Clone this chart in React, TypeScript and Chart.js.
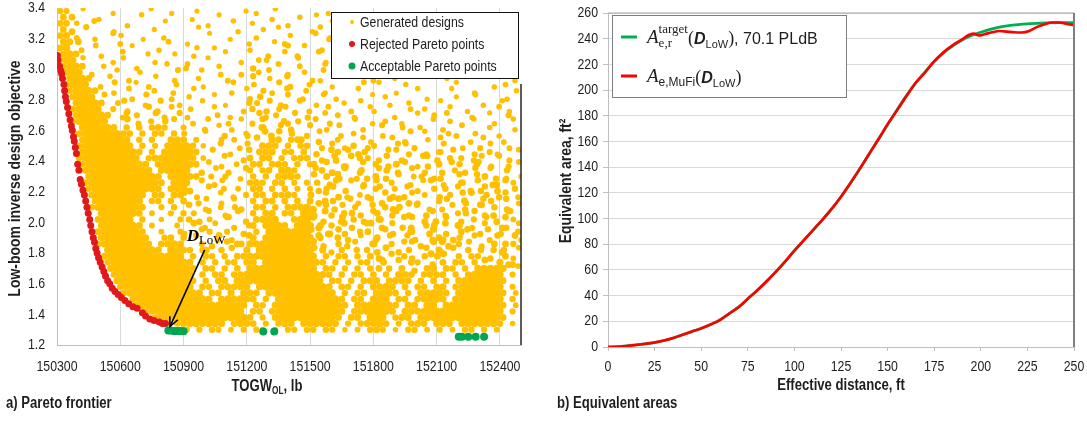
import React, { useEffect, useRef } from "react";
import { Chart, registerables } from "chart.js";

Chart.register(...registerables);

// ---------------- Panel a) Pareto frontier ----------------
const TOGW_MIN = 150300;
const TOGW_MAX = 152500;
const TOGW_STEP = 300;
const OBJ_MIN = 1.2;
const OBJ_MAX = 3.4;
const OBJ_STEP = 0.2;

// Generated designs, read from the picture as an occupancy map:
// one mark = one design in a 30 lb x 0.04 cell (top row = 3.38, bottom row = 1.30).
// '#' = design near the cell centre; digits 1-9 = design off-centre, keypad layout
// (7 8 9 = upper part of the cell, 1 2 3 = lower part).
const GEN_X0 = 150315;
const GEN_DX = 30;
const GEN_Y0 = 1.22;
const GEN_DY = 0.04;
const GEN_TOP_ROW = 54;
const generatedMap: string[] = [
  "##..7...3. ....9...1. ..4......6 .2..8..... ..3....... .......... .......... ...",
  "#6....1... ..9....... 3....7.... ...2...6.. 8......... .......... .......... ...",
  "##.4.9.... .1.....7.. ...3...9.. 6.....2... ...8...... .......... .......... ...",
  "#3..7...2. ....6..... .9......1. ..4.8....3 .7........ .......... .......... ...",
  "##.1....9. 4.....3... ....7..... .2....6... 9..1...... .......... .......... ...",
  "##6..8...2 ...7...4.. 1.....9..3 ...6.2.... ..8....... .......... .......... ...",
  "##.3..7... .9....1... ..4.6..... 2.....8..7 .3..9..... .......... .......... ...",
  "###...2..9 ...6....4. .1....7... ..3..8.2.. 9...4..... .......... .......... ...",
  "###.7...3. 8....2.... ...9.....1 .6.4....7. ..2..8.... .......... .......... ...",
  "####..6... ..1...9..3 7....4.... 2...8..6.. .9...1.... .......... .......... ...",
  ".###.2...8 ...4.....7 ..9..3...1 .6.8..2..4 ..7.1..... .......... .......... ...",
  ".####..9.. 3....7..1. .6....2... 8..4.9...3 .1...7...2 ..6....9.. .4....8... .3.",
  ".####.3..7 ..8.2...6. ...1...9.. .4...73..6 ...2....8. 9....4.... ...7.....1 6..",
  ".#####..2. 9...6..3.. .7.....1.8 ..42.9..6. .3.....7.. ...1..8... .9...2.... ..4",
  "..####.8.. .3..7...1. 6...9..... 2.4...8.3. ..7.1....9 .6......2. ...4..7... .1.",
  "..#####..4 7..2.9..3. ..8...1..6 .4.73..9.. 2...6..8.. ..1..4.... 7.....3..9 ...",
  "..#####.6. .1..83..7. .4..9....2 6..1.47..3 ..9...2..8 1....6..4. ..7.3....9 .2.",
  "..######.3 8.4..72.9. 1...6.3... .82.4..7.1 .9.6..2... ..3...8..4 .7...1.9.. 6..",
  "..######.. .73.6..48. .2.9...1.7 3.8..62.4. 9..1...7.3 .6..2....8 ..4..9...1 ..7",
  "...######. #.#.###..# ..3..7.1.. .64.9.2..8 ..1.7..3.. 9...4.6... 2..8...6.. .3.",
  "...####### ##.#.##.#. 4..8..2..6 1.93.7.4.2 .8..3.6... .2...9..7. .6.1..4..3 ...",
  "...####### #.#.#..### .#...#.#.. .7.##.##4. 3..6...9.1 ..8.2...4. 7...3.9... 1..",
  "...####### ##.#.#.### ##.4.9..3. 7.###.#.## .3.8.26..1 4..9.72... .7..1.3.8. .2.",
  "...####### ###.#.#### ##..7.3..9 .###.##.#. 2.96.8.14. .9.7.1.3.6 4.7..2.6.1 ..8",
  "...####### ###.###### ##.4..8..2 #.##.#.### .3.91.86.4 3.7.2..98. 1.46.3.7.9 .2.",
  "...####### ####.##### ##.8.2.6.. ##.###.#.# 4.7.31.9.6 .3.48.2.16 .9.4.67.1. 3.8",
  "....###### #####.#### #.3..7.1.9 #.##.###.. 96.2.8.34. 9.43..7.1. 3.6.2.7.8. .4.",
  "....###### ######.### ##.6..4.2. #.#.####.. 7.491.3.26 .2.8.6.4.1 1..7.9.43. 2.6",
  "....###### #######.## #.9.3.7... ###.##.#.# .4.17.8.2. 8.6..3.9.7 .1.64.8.32 9.4",
  "....###### ######.### 2..8.6..4. ##.#.#.#.# 3.47.1.9.6 8.6.9.2..4 6.9.3.27.1 .6.",
  ".....##### ####.##.## 7.1..9.3.6 .##.####.. 4.8.23.6.1 .9.13.7.4. 2.4.78.6.3 9.3",
  ".....##### ###.##.#.# .3.7.2.8.. #.##.#.#.# 36.4.9.1.7 3.78.12..6 .7.61.9.4. 8.2",
  ".....##### ####..#.#. 9..2.6..41 .##.#.#### 2.83.7.4.9 .6.14.9.3. 3.8.2.97.4 .1.",
  "......#### ###.#..#.# .4.8..1.7. #.##.##.## 193.6.42.8 4.27.1.39. 3.6.48.12. 97.",
  "......#### ##.#..#..# 6.2.4.97.3 .####..### 8.1.376.2. 64..9.7.13 .8.3.6.9.2 9.4",
  "......#### ###.#...#. .73.8..2.6 #.####.### 346.9.1.87 3.8.12.6.4 9.64.1.7.3 2.8",
  "......#### ####..#..# 1.9.4.6..2 .#.####### 7.3182.6.4 .9.1.64.38 .2.69.3.7. 1.6",
  "......#### ####..##.# .8..37.1.9 #.######## 94.6.2.8.3 4.7.9.1.36 2.14.8.3.7 .93",
  "......#### #####.#### ..6.2.9.#4 ########## 8.1.#3.7.6 4.6.9.72.8 93.#.7.1.4 6.4",
  ".......### ######.### #.#4.#.7.# .######### 7#3.#.6.#. 18.2.4.9.6 1.7.#.#.#3 4.8",
  ".......### ########## .#.##.#.## ########## #.#.##.#.# 3.9.6.1.47 47.#.##.2. 6.1",
  ".......### ########## #.#.#.##.# #.######## ##.#.#.##. 94.8.##.3. #.##.#.7.# 32.",
  "........## ########## ##.##.#.#. ########## #.##.#.#.# 6.#.#.2.## .##.#.#### #.9",
  "........## ########## #.#.##.### ########## ###.#.##.# .#.###.### #.#.###### .#.",
  ".........# ########## ##.#.##.## ########## ##.##.#.## #.####.#.# .#.####### #..",
  ".........# ########## #.##.##### .######### ###.##.#.# ###.#.##.# #.######## .#.",
  ".......... ########## ###.##.#.# ##.####### ####.#.##. ####.#.### ##.####### #.#",
  ".......... .######### ####.##### #.#.###### #####.##.# ##.##.#### #.######## .#.",
  ".......... ..######## ########## .##.###### ######.### ####.##.## .######### #.#",
  ".......... ...####### #########. ##.####### #####.#### ###.###### ########## .#.",
  ".......... .....##### ########## #.#.###### #####.##.# ##.###.### ########## #..",
  ".......... ........## ######.### #.#.###.## ####.#.### ##.#.###.# ##.####### .#.",
  ".......... .......... #.#.##.#.# .##.#.##.# #.##.#.#.# ##.#.##.#. #.#.##.#.# ...",
];
const GEN_OFFSET: Record<string, [number, number]> = {
  "7": [-1, 1], "8": [0, 1], "9": [1, 1],
  "4": [-1, 0], "#": [0, 0], "5": [0, 0], "6": [1, 0],
  "1": [-1, -1], "2": [0, -1], "3": [1, -1],
};
const GEN_OFFSET_FRACTION = 0.38;

const rejectedTOGW = [
  150302, 150305, 150312, 150318, 150322, 150326, 150333, 150336, 150340, 150344,
  150350, 150356, 150362, 150368, 150373, 150378, 150382, 150387, 150392, 150398,
  150404, 150410, 150416, 150423, 150430, 150436, 150442, 150448, 150455, 150460,
  150466, 150472, 150478, 150484, 150490, 150497, 150505, 150514, 150522, 150530,
  150540, 150550, 150562, 150575, 150590, 150605, 150622, 150640, 150660, 150680,
  150705, 150720, 150740, 150760, 150785, 150800, 150815,
];
const rejectedObj = [
  3.09, 3.06, 3.02, 2.99, 2.97, 2.94, 2.9, 2.86, 2.82, 2.79,
  2.75, 2.71, 2.67, 2.63, 2.6, 2.56, 2.53, 2.49, 2.45, 2.38,
  2.34, 2.28, 2.25, 2.21, 2.18, 2.14, 2.1, 2.06, 2.02, 1.98,
  1.94, 1.9, 1.87, 1.83, 1.8, 1.77, 1.74, 1.71, 1.68, 1.65,
  1.62, 1.6, 1.57, 1.55, 1.53, 1.51, 1.49, 1.47, 1.45, 1.44,
  1.41, 1.39, 1.37, 1.36, 1.35, 1.34, 1.34,
];
const acceptableTOGW = [
  150828, 150840, 150852, 150864, 150876, 150888, 150900,
  151278, 151330,
  152205, 152220, 152250, 152285, 152325,
];
const acceptableObj = [
  1.295, 1.295, 1.292, 1.292, 1.292, 1.292, 1.29,
  1.288, 1.288,
  1.254, 1.254, 1.254, 1.254, 1.254,
];
const seriesLabelsA = ["Generated designs", "Rejected Pareto points", "Acceptable Pareto points"];
// the D_LoW arrow: tip at the selected design, tail where the label sits
const dLow = { tipTOGW: 150836, tipObj: 1.322, tailTOGW: 151000, tailObj: 1.82 };

// ---------------- Panel b) Equivalent areas ----------------
const DIST_MIN = 0;
const DIST_MAX = 250;
const DIST_STEP = 25;
const AREA_MIN = 0;
const AREA_MAX = 260;
const AREA_STEP = 20;

const targetDistance = [
  0, 5, 10, 15, 20, 25, 30, 35, 40, 45,
  50, 55, 60, 65, 70, 75, 80, 85, 90, 95,
  100, 105, 110, 115, 120, 125, 130, 135, 140, 145,
  150, 155, 160, 165, 170, 175, 180, 185, 190, 195,
  200, 205, 210, 215, 220, 225, 230, 235, 240, 245,
  250,
];
const targetArea = [
  0, 0.2, 0.8, 1.6, 2.5, 3.5, 5, 7, 9.5, 12,
  14.5, 17.5, 21, 26, 31, 37.5, 44, 51, 58.5, 66.5,
  75, 83, 91, 99, 107.5, 117, 127.5, 138.5, 150, 161.5,
  173, 184.5, 195.5, 205.5, 214, 222, 229, 234.5, 239, 242.5,
  245, 247.2, 249, 250.2, 251, 251.6, 252, 252.3, 252.5, 252.5,
  252.5,
];
const mufiDistance = [
  0, 5, 10, 15, 20, 25, 30, 35, 40, 45,
  50, 55, 60, 65, 70, 75, 80, 85, 90, 95,
  100, 105, 110, 115, 120, 125, 130, 135, 140, 145,
  150, 155, 160, 165, 170, 175, 180,
  185, 190, 193, 196, 199, 202, 206, 210, 214, 218,
  222, 226, 230, 234, 238, 242, 246, 250,
];
const mufiArea = [
  0, 0.2, 0.8, 1.6, 2.5, 3.5, 5, 7, 9.5, 12,
  14.5, 17.5, 21, 26, 31, 37.5, 44, 51, 58.5, 66.5,
  75, 83, 91, 99, 107.5, 117, 127.5, 138.5, 150, 161.5,
  173.5, 184, 195, 205.5, 213.5, 222.5, 229.5,
  235, 239.5, 242.5, 244, 242.5, 243.5, 245, 246, 245.5, 245,
  244.8, 246, 249, 251, 252.6, 252.6, 251.5, 250.5,
];

// ---------------- styles ----------------
const SANS = "'Liberation Sans', Arial, sans-serif";
const SERIF = "'Liberation Serif', 'DejaVu Serif', serif";
const NARROW_K = 0.82; // Arial-Narrow look: Liberation Sans squeezed horizontally
const ORANGE = "#FFC000";
const RED_PT = "#E0191C";
const GREEN_PT = "#00A650";
const GREEN_LINE = "#00B050";
const RED_LINE = "#FF0000";
const TEXT = "#1e1e1e";
const AXIS = "#BFBFBF";
const GRID = "#D9D9D9";
const TICK_FONT = `15px ${SANS}`;
const TITLE_FONT = `bold 17px ${SANS}`;
const CAPTION_FONT = `bold 16px ${SANS}`;

type Run = { t: string; f: string; dy?: number; stackWith?: { t: string; f: string; dy: number } };

function runsWidth(ctx: any, runs: Run[]) {
  let w = 0;
  runs.forEach((r) => {
    ctx.font = r.f;
    let rw = ctx.measureText(r.t).width;
    if (r.stackWith) {
      ctx.font = r.stackWith.f;
      rw = Math.max(rw, ctx.measureText(r.stackWith.t).width);
    }
    w += rw;
  });
  return w;
}

function drawRuns(ctx: any, x: number, baseline: number, runs: Run[], k = 1) {
  ctx.save();
  ctx.translate(x, 0);
  ctx.scale(k, 1);
  ctx.textAlign = "left";
  ctx.textBaseline = "alphabetic";
  let cx = 0;
  runs.forEach((r) => {
    ctx.font = r.f;
    ctx.fillText(r.t, cx, baseline + (r.dy || 0));
    let rw = ctx.measureText(r.t).width;
    if (r.stackWith) {
      ctx.font = r.stackWith.f;
      ctx.fillText(r.stackWith.t, cx, baseline + r.stackWith.dy);
      rw = Math.max(rw, ctx.measureText(r.stackWith.t).width);
    }
    cx += rw;
  });
  ctx.restore();
}

function narrowText(ctx: any, text: string, x: number, y: number, font: string, align: string, rotate = 0) {
  ctx.save();
  ctx.font = font;
  ctx.textAlign = align;
  ctx.textBaseline = "middle";
  ctx.translate(x, y);
  if (rotate) ctx.rotate(rotate);
  ctx.scale(NARROW_K, 1);
  ctx.fillText(text, 0, 0);
  ctx.restore();
}

function drawTickLabels(chart: any, xLabelY: number, yLabelRight: number, fx: (v: number) => string, fy: (v: number) => string) {
  const { ctx, scales } = chart;
  ctx.save();
  ctx.fillStyle = TEXT;
  scales.x.ticks.forEach((t: any) => {
    narrowText(ctx, fx(t.value), scales.x.getPixelForValue(t.value), xLabelY, TICK_FONT, "center");
  });
  scales.y.ticks.forEach((t: any) => {
    narrowText(ctx, fy(t.value), yLabelRight, scales.y.getPixelForValue(t.value), TICK_FONT, "right");
  });
  ctx.restore();
}

function fixedScale(size: number, vertical: boolean) {
  return (scale: any) => {
    if (vertical) scale.width = size;
    else scale.height = size;
    scale.paddingTop = 0;
    scale.paddingBottom = 0;
    scale.paddingLeft = 0;
    scale.paddingRight = 0;
  };
}

const leftDecor = {
  id: "leftDecor",
  afterDraw(chart: any) {
    const { ctx, chartArea: a, scales } = chart;
    const xs = scales.x;
    const ys = scales.y;
    ctx.save();

    drawTickLabels(chart, 367, 45, (v) => String(v), (v) => Number(v).toFixed(1));

    // legend box
    const L = { x: 331, y: 12, w: 187, h: 66 };
    ctx.fillStyle = "#ffffff";
    ctx.fillRect(L.x, L.y, L.w, L.h);
    // right frame of plot area
    ctx.strokeStyle = "#262626";
    ctx.lineWidth = 1.5;
    ctx.beginPath();
    ctx.moveTo(a.right, L.y + L.h + 6);
    ctx.lineTo(a.right, a.bottom);
    ctx.stroke();
    ctx.strokeStyle = "#111";
    ctx.lineWidth = 1;
    ctx.strokeRect(L.x + 0.5, L.y + 0.5, L.w, L.h);
    const markers = [
      { color: ORANGE, r: 2 },
      { color: RED_PT, r: 3 },
      { color: GREEN_PT, r: 3.5 },
    ];
    seriesLabelsA.forEach((label, i) => {
      const cy = L.y + 10 + i * 22;
      ctx.fillStyle = markers[i].color;
      ctx.beginPath();
      ctx.arc(L.x + 21, cy, markers[i].r, 0, Math.PI * 2);
      ctx.fill();
      ctx.fillStyle = TEXT;
      narrowText(ctx, label, L.x + 29, cy + 1, `15px ${SANS}`, "left");
    });

    // D_LoW arrow
    const tx = xs.getPixelForValue(dLow.tipTOGW);
    const ty = ys.getPixelForValue(dLow.tipObj);
    const sx = xs.getPixelForValue(dLow.tailTOGW);
    const sy = ys.getPixelForValue(dLow.tailObj);
    ctx.strokeStyle = "#000";
    ctx.lineWidth = 1.6;
    ctx.beginPath();
    ctx.moveTo(sx, sy);
    ctx.lineTo(tx, ty);
    ctx.stroke();
    const ang = Math.atan2(ty - sy, tx - sx);
    const hl = 10;
    ctx.beginPath();
    ctx.moveTo(tx - hl * Math.cos(ang - 0.45), ty - hl * Math.sin(ang - 0.45));
    ctx.lineTo(tx, ty);
    ctx.lineTo(tx - hl * Math.cos(ang + 0.45), ty - hl * Math.sin(ang + 0.45));
    ctx.stroke();
    ctx.fillStyle = "#000";
    drawRuns(ctx, sx - 18, sy - 9, [
      { t: "D", f: `italic bold 17px ${SERIF}` },
      { t: "LoW", f: `13px ${SERIF}`, dy: 3 },
    ]);

    // axis titles
    ctx.fillStyle = TEXT;
    narrowText(ctx, "Low-boom inverse design objective", 15, (a.top + a.bottom) / 2 + 2, TITLE_FONT, "center", -Math.PI / 2);
    const xt: Run[] = [
      { t: "TOGW", f: `bold 16px ${SANS}` },
      { t: "OL", f: `bold 10px ${SANS}`, dy: 3 },
      { t: ", lb", f: `bold 16px ${SANS}` },
    ];
    const cx = (a.left + a.right) / 2 - 22;
    drawRuns(ctx, cx - (runsWidth(ctx, xt) * NARROW_K) / 2, 391, xt, NARROW_K);
    narrowText(ctx, "a) Pareto frontier", 6, 404, CAPTION_FONT, "left");
    ctx.restore();
  },
};

const rightDecor = {
  id: "rightDecor",
  afterDraw(chart: any) {
    const { ctx, chartArea: a } = chart;
    ctx.save();

    drawTickLabels(chart, 367, 58, (v) => String(v), (v) => String(v));

    // frame
    ctx.strokeStyle = "#A6A6A6";
    ctx.lineWidth = 1.2;
    ctx.beginPath();
    ctx.moveTo(a.left, a.top);
    ctx.lineTo(a.right, a.top);
    ctx.stroke();
    ctx.strokeStyle = "#7F7F7F";
    ctx.lineWidth = 2;
    ctx.beginPath();
    ctx.moveTo(a.right, a.top);
    ctx.lineTo(a.right, a.bottom);
    ctx.stroke();

    // legend
    const L = { x: 72, y: 15, w: 234, h: 82 };
    ctx.fillStyle = "#fff";
    ctx.fillRect(L.x, L.y, L.w, L.h);
    ctx.strokeStyle = "#7F7F7F";
    ctx.lineWidth = 1;
    ctx.strokeRect(L.x + 0.5, L.y + 0.5, L.w, L.h);
    ctx.lineWidth = 3;
    ctx.strokeStyle = GREEN_LINE;
    ctx.beginPath();
    ctx.moveTo(L.x + 9, L.y + 22);
    ctx.lineTo(L.x + 25, L.y + 22);
    ctx.stroke();
    ctx.strokeStyle = RED_LINE;
    ctx.beginPath();
    ctx.moveTo(L.x + 9, L.y + 61);
    ctx.lineTo(L.x + 25, L.y + 61);
    ctx.stroke();
    ctx.fillStyle = TEXT;
    drawRuns(ctx, L.x + 35, L.y + 28, [
      { t: "A", f: `italic 19px ${SERIF}`, dy: 0 },
      { t: "target", f: `13px ${SERIF}`, dy: -10, stackWith: { t: "e,r", f: `13px ${SERIF}`, dy: 4 } },
      { t: "(", f: `18px ${SERIF}`, dy: 1 },
      { t: "D", f: `italic bold 16px ${SANS}`, dy: 1 },
      { t: "LoW", f: `11px ${SANS}`, dy: 5 },
      { t: ")", f: `18px ${SERIF}`, dy: 1 },
      { t: ", 70.1 PLdB", f: `16px ${SANS}`, dy: 1 },
    ]);
    drawRuns(ctx, L.x + 35, L.y + 67, [
      { t: "A", f: `italic 19px ${SERIF}`, dy: 0 },
      { t: "e,MuFi", f: `12px ${SANS}`, dy: 4 },
      { t: "(", f: `18px ${SERIF}`, dy: 1 },
      { t: "D", f: `italic bold 16px ${SANS}`, dy: 1 },
      { t: "LoW", f: `11px ${SANS}`, dy: 5 },
      { t: ")", f: `18px ${SERIF}`, dy: 1 },
    ]);

    // titles
    ctx.fillStyle = TEXT;
    narrowText(ctx, "Equivalent area, ft²", 26, (a.top + a.bottom) / 2 + 1, TITLE_FONT, "center", -Math.PI / 2);
    narrowText(ctx, "Effective distance, ft", (a.left + a.right) / 2, 386, CAPTION_FONT, "center");
    narrowText(ctx, "b) Equivalent areas", 17, 404, CAPTION_FONT, "left");
    ctx.restore();
  },
};

function buildGenerated() {
  const grid: string[] = generatedMap.map((row) => row.replace(/ /g, ""));
  const at = (i: number, c: number) =>
    i >= 0 && i < grid.length && c >= 0 && c < grid[i].length && grid[i][c] !== "." ? 1 : 0;
  const pts: { x: number; y: number; around: number }[] = [];
  grid.forEach((cells, i) => {
    const r = GEN_TOP_ROW - i;
    for (let c = 0; c < cells.length; c++) {
      const off = GEN_OFFSET[cells[c]];
      if (!off) continue;
      const around =
        at(i, c - 1) + at(i, c + 1) + at(i - 1, c) + at(i + 1, c) +
        at(i - 1, c - 1) + at(i - 1, c + 1) + at(i + 1, c - 1) + at(i + 1, c + 1);
      pts.push({
        x: GEN_X0 + GEN_DX * c + (r % 2 ? GEN_DX / 2 : 0) + off[0] * GEN_OFFSET_FRACTION * GEN_DX,
        y: GEN_Y0 + GEN_DY * r + off[1] * GEN_OFFSET_FRACTION * GEN_DY,
        around,
      });
    }
  });
  return pts;
}

export default function App() {
  const leftRef = useRef<HTMLCanvasElement>(null);
  const rightRef = useRef<HTMLCanvasElement>(null);

  useEffect(() => {
    const generated = buildGenerated();
    const rejected = rejectedTOGW.map((x, i) => ({ x, y: rejectedObj[i] }));
    const acceptable = acceptableTOGW.map((x, i) => ({ x, y: acceptableObj[i] }));

    const left = new Chart(leftRef.current as HTMLCanvasElement, {
      type: "scatter",
      data: {
        datasets: [
          {
            label: seriesLabelsA[2],
            data: acceptable,
            pointRadius: 4,
            pointBackgroundColor: GREEN_PT,
            pointBorderWidth: 0,
            order: 1,
          },
          {
            label: seriesLabelsA[1],
            data: rejected,
            pointRadius: 3.5,
            pointBackgroundColor: RED_PT,
            pointBorderWidth: 0,
            order: 2,
          },
          {
            label: seriesLabelsA[0],
            data: generated,
            pointRadius: (c: any) => 2.6 + 0.16 * ((c.raw && c.raw.around) || 0),
            pointBackgroundColor: ORANGE,
            pointBorderWidth: 0,
            order: 3,
          },
        ],
      },
      options: {
        responsive: false,
        animation: false,
        devicePixelRatio: 1,
        events: [],
        layout: { padding: { top: 8, right: 19, left: 0, bottom: 0 } },
        plugins: { legend: { display: false }, tooltip: { enabled: false } },
        scales: {
          x: {
            type: "linear",
            min: TOGW_MIN,
            max: TOGW_MAX,
            afterFit: fixedScale(76, false),
            grid: { color: GRID, drawTicks: false },
            border: { color: AXIS },
            ticks: { stepSize: TOGW_STEP, includeBounds: false, autoSkip: false, display: false },
          },
          y: {
            type: "linear",
            min: OBJ_MIN,
            max: OBJ_MAX,
            afterFit: fixedScale(57, true),
            grid: { drawOnChartArea: false, drawTicks: false },
            border: { color: AXIS },
            ticks: { stepSize: OBJ_STEP, autoSkip: false, display: false },
          },
        },
      },
      plugins: [leftDecor],
    } as any);

    const right = new Chart(rightRef.current as HTMLCanvasElement, {
      type: "scatter",
      data: {
        datasets: [
          {
            label: "MuFi",
            data: mufiDistance.map((x, i) => ({ x, y: mufiArea[i] })),
            showLine: true,
            borderColor: RED_LINE,
            borderWidth: 2.6,
            pointRadius: 0,
            cubicInterpolationMode: "monotone",
            order: 0,
          },
          {
            label: "target",
            data: targetDistance.map((x, i) => ({ x, y: targetArea[i] })),
            showLine: true,
            borderColor: GREEN_LINE,
            borderWidth: 2.8,
            pointRadius: 0,
            cubicInterpolationMode: "monotone",
            order: 1,
          },
        ],
      },
      options: {
        responsive: false,
        animation: false,
        devicePixelRatio: 1,
        events: [],
        layout: { padding: { top: 13, right: 13, left: 0, bottom: 0 } },
        plugins: { legend: { display: false }, tooltip: { enabled: false } },
        scales: {
          x: {
            type: "linear",
            min: DIST_MIN,
            max: DIST_MAX,
            afterFit: fixedScale(74, false),
            grid: { drawOnChartArea: false, drawTicks: true, tickLength: 4, tickColor: AXIS },
            border: { color: AXIS },
            ticks: { stepSize: DIST_STEP, autoSkip: false, display: false },
          },
          y: {
            type: "linear",
            min: AREA_MIN,
            max: AREA_MAX,
            afterFit: fixedScale(68, true),
            grid: { color: GRID, drawTicks: true, tickLength: 5, tickColor: AXIS },
            border: { color: AXIS },
            ticks: { stepSize: AREA_STEP, autoSkip: false, display: false },
          },
        },
      },
      plugins: [rightDecor],
    } as any);

    return () => {
      left.destroy();
      right.destroy();
    };
  }, []);

  return (
    <div
      style={{
        position: "fixed",
        left: 0,
        top: 0,
        width: 1087,
        height: 421,
        background: "#ffffff",
        overflow: "hidden",
      }}
    >
      <canvas
        ref={leftRef}
        width={540}
        height={421}
        style={{ position: "absolute", left: 0, top: 0, width: 540, height: 421 }}
      />
      <canvas
        ref={rightRef}
        width={547}
        height={421}
        style={{ position: "absolute", left: 540, top: 0, width: 547, height: 421 }}
      />
    </div>
  );
}
